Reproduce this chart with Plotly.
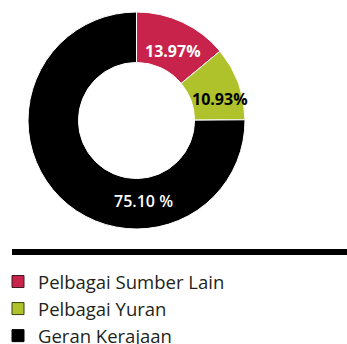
import plotly.graph_objects as go

# Funding sources and their shares (%)
categories = ["Pelbagai Sumber Lain", "Pelbagai Yuran", "Geran Kerajaan"]
shares = [13.97, 10.93, 75.10]
label_suffix = ["%", "%", " %"]

colors = ["#C8234B", "#AFC22B", "#000000"]
legend_edges = ["#3a1a20", "#3a3f10", "#000000"]
label_colors = ["#ffffff", "#000000", "#ffffff"]
label_weights = ["bold", "bold", 600]

W, H = 347, 344
FONT = "Open Sans"

# Label anchor points in pixels (centre of each text)
label_px = [(173, 51), (220, 99), (143, 201)]

fig = go.Figure()

fig.add_trace(go.Pie(
    labels=categories,
    values=shares,
    sort=False,
    direction="clockwise",
    rotation=0,
    hole=0.535,
    marker=dict(colors=colors, line=dict(color="#ffffff", width=1)),
    textinfo="none",
    hoverinfo="label+value",
    showlegend=False,
    domain=dict(x=[28 / W, 245 / W], y=[1 - 229 / H, 1 - 12 / H]),
))

# Legend entries with square swatches
for i, (cat, col, edge) in enumerate(zip(categories, colors, legend_edges)):
    fig.add_trace(go.Scatter(
        x=[None], y=[None],
        mode="markers",
        name=cat,
        legendgroup=f"g{i}",
        marker=dict(symbol="square", size=12, color=col,
                    line=dict(color=edge, width=1)),
    ))

annotations = []
for v, suf, (px, py), c, w in zip(shares, label_suffix, label_px, label_colors, label_weights):
    annotations.append(dict(
        text=f"{v:.2f}{suf}",
        x=px / W, y=1 - py / H,
        xref="paper", yref="paper",
        xanchor="center", yanchor="middle",
        showarrow=False,
        font=dict(family=FONT, size=16, color=c, weight=w),
    ))

fig.update_layout(
    width=W, height=H,
    margin=dict(l=0, r=0, t=0, b=0, autoexpand=False),
    paper_bgcolor="#ffffff",
    plot_bgcolor="#ffffff",
    xaxis=dict(visible=False),
    yaxis=dict(visible=False),
    annotations=annotations,
    shapes=[dict(type="line", xref="paper", yref="paper",
                 x0=12 / W, x1=1, y0=1 - 252 / H, y1=1 - 252 / H,
                 line=dict(color="#000000", width=6))],
    showlegend=True,
    legend=dict(
        x=-2 / W, y=1 - 263 / H, xanchor="left", yanchor="top",
        font=dict(family=FONT, size=18.5, color="#231f20"),
        tracegroupgap=0,
        bgcolor="rgba(0,0,0,0)",
    ),
)

fig.write_html("out.html")
